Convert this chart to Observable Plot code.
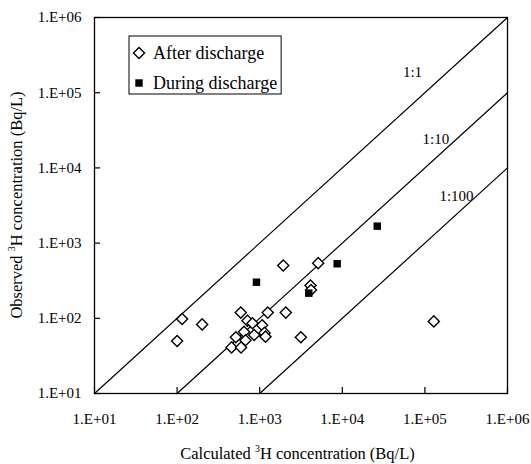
<!DOCTYPE html>
<html><head><meta charset="utf-8">
<script src="https://cdn.jsdelivr.net/npm/d3@7"></script>
<script src="https://cdn.jsdelivr.net/npm/@observablehq/plot@0.6"></script>
<style>body{margin:0;background:#fff}</style>
</head><body><div id="chart"></div>
<script>
// ---- data ----
const tickValues = [1e1, 1e2, 1e3, 1e4, 1e5, 1e6];
const tickLabels = ["1.E+01", "1.E+02", "1.E+03", "1.E+04", "1.E+05", "1.E+06"];

const afterCalc = [100, 115, 201, 590, 711, 818, 1072, 646, 857, 1143, 1175, 514, 673, 456, 594, 1253, 2071, 3149, 1928, 5105, 4121, 4180, 128200];
const afterObs  = [50, 98, 83, 119, 93, 86, 81, 66, 60, 64, 57, 56, 51, 41, 41, 119, 119, 56, 504, 541, 273, 238, 91];

const duringCalc = [914, 3929, 8670, 26500];
const duringObs  = [302, 216, 531, 1680];

const ratioNames   = ["1:1", "1:10", "1:100"];
const ratioFactors = [1, 10, 100];
const ratioLabelX  = [70800, 136000, 241500];
const ratioLabelY  = [186000, 23900, 4230];

const seriesNames = ["After discharge", "During discharge"];

// ---- derived tables ----
const after = afterCalc.map((x, i) => ({x, y: afterObs[i]}));
const during = duringCalc.map((x, i) => ({x, y: duringObs[i]}));
const lo = tickValues[0], hi = tickValues[tickValues.length - 1];
const ratioLines = ratioFactors.flatMap((f, i) => [
  {name: ratioNames[i], x: lo * f, y: lo},
  {name: ratioNames[i], x: hi, y: hi / f}
]);
const ratioLabels = ratioNames.map((name, i) => ({name, x: ratioLabelX[i], y: ratioLabelY[i]}));
const fmt = d => tickLabels[tickValues.indexOf(d)] ?? "";

const W = 531, H = 464;
const mL = 94, mR = 24, mT = 17, mB = 71;
const innerW = W - mL - mR, innerH = H - mT - mB;
const font = "Liberation Serif, Times New Roman, serif";

const chart = Plot.plot({
  width: W, height: H,
  marginLeft: mL, marginRight: mR, marginTop: mT, marginBottom: mB,
  style: {fontFamily: font, fontSize: "15px", color: "#000", background: "#fff", overflow: "visible"},
  x: {type: "log", domain: [lo, hi]},
  y: {type: "log", domain: [lo, hi]},
  marks: [
    Plot.axisX({ticks: tickValues, tickFormat: fmt, tickSize: 0, tickPadding: 20, label: null, fontSize: 15}),
    Plot.axisY({ticks: tickValues, tickFormat: fmt, tickSize: 0, tickPadding: 13, label: null, fontSize: 15}),
    Plot.ruleX(tickValues, {x: d => d, insetTop: innerH - 6, stroke: "#000", strokeWidth: 1.2}),
    Plot.ruleY(tickValues, {y: d => d, insetRight: innerW - 6, stroke: "#000", strokeWidth: 1.2}),
    Plot.line(ratioLines, {x: "x", y: "y", z: "name", stroke: "#000", strokeWidth: 1.2}),
    Plot.dot(after, {x: "x", y: "y", symbol: "diamond2", r: 5, stroke: "#000", fill: "#fff", strokeWidth: 1.4}),
    Plot.dot(during, {x: "x", y: "y", symbol: "square", r: 4.2, fill: "#000", stroke: "none"}),
    Plot.text(ratioLabels, {x: "x", y: "y", text: "name", fontSize: 15, fill: "#000"}),
    Plot.frame({stroke: "#000", strokeWidth: 1.3})
  ]
});
document.getElementById("chart").appendChild(chart);

// ---- axis titles and legend ----
const svg = d3.select(chart);
const xt = svg.append("text")
  .attr("x", mL + innerW / 2 - 3).attr("y", 459)
  .attr("text-anchor", "middle").attr("font-family", font).attr("font-size", 16.5).attr("fill", "#000");
xt.append("tspan").text("Calculated ");
xt.append("tspan").text("3").attr("font-size", 10).attr("dy", -7);
xt.append("tspan").text("H concentration (Bq/L)").attr("dy", 7);

const yt = svg.append("text")
  .attr("transform", `translate(22,${mT + innerH / 2}) rotate(-90)`)
  .attr("text-anchor", "middle").attr("font-family", font).attr("font-size", 16.5).attr("fill", "#000");
yt.append("tspan").text("Observed ");
yt.append("tspan").text("3").attr("font-size", 10).attr("dy", -7);
yt.append("tspan").text("H concentration (Bq/L)").attr("dy", 7);

const lg = svg.append("g");
const box = lg.append("rect").attr("x", 129).attr("y", 36).attr("height", 58)
  .attr("fill", "#fff").attr("stroke", "#000").attr("stroke-width", 1);
const sym2 = d3.symbol().type(d3.symbolDiamond2).size(Math.PI * 25);
const symS = d3.symbol().type(d3.symbolSquare).size(Math.PI * 4.2 * 4.2);
lg.append("path").attr("d", sym2()).attr("transform", "translate(139,53)")
  .attr("fill", "#fff").attr("stroke", "#000").attr("stroke-width", 1.4);
lg.append("path").attr("d", symS()).attr("transform", "translate(139,83)").attr("fill", "#000");
let maxW = 0;
seriesNames.forEach((s, i) => {
  const t = lg.append("text").attr("x", 153).attr("y", 53 + i * 30).attr("dy", "0.35em")
    .attr("text-anchor", "start")
    .attr("font-family", font).attr("font-size", 18).attr("fill", "#000").text(s);
  maxW = Math.max(maxW, t.node().getComputedTextLength());
});
box.attr("width", 153 + maxW + 4 - 129);
</script>
</body></html>
